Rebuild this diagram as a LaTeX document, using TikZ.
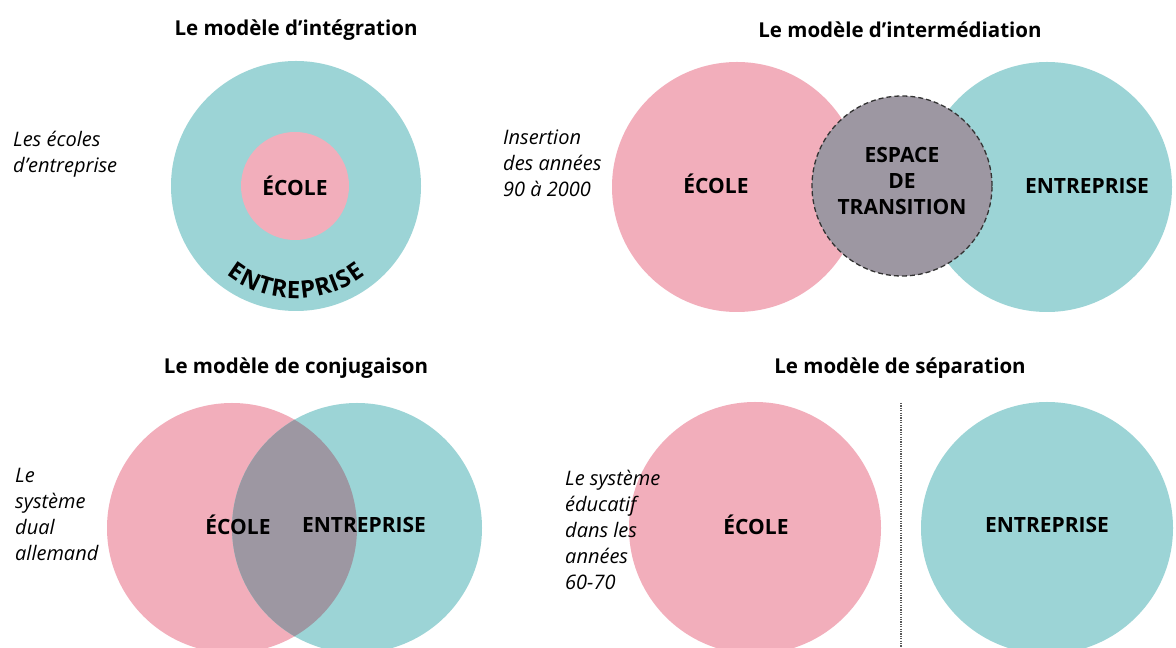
\documentclass[tikz,border=0pt]{standalone}
\usepackage{fontspec}
\setmainfont{Open Sans}
\definecolor{tealbg}{RGB}{156,212,214}
\definecolor{pinkbg}{RGB}{242,174,187}
\definecolor{mauve}{RGB}{157,151,162}

\begin{document}
\begin{tikzpicture}[x=1pt,y=1pt]
    \tikzstyle{disc}=[circle,inner sep=0pt,minimum size=250pt]
    \tikzstyle{heading}=[font=\bfseries\fontsize{20.5}{24}\selectfont]
    \tikzstyle{tag}=[font=\bfseries\fontsize{21}{26}\selectfont,align=center]
    \tikzstyle{curvy}=[font=\bfseries\fontsize{24}{24}\selectfont,inner sep=0pt]
    \tikzstyle{note}=[font=\itshape\fontsize{20}{26}\selectfont,align=left,anchor=west,inner sep=0pt]
    \tikzstyle{divider}=[gray!70!black,line width=1.2pt,dash pattern=on 1.2pt off 1.2pt]
    \useasboundingbox[fill=white] (0,0) rectangle (1176,648);

    % integration
    \node[heading] (titleA) at (296,618) {Le modèle d’intégration};
    \node[disc,fill=tealbg] (entrA) at (296,462) {};
    \node[disc,fill=pinkbg,minimum size=108pt,tag] (ecoleA) at (295,462) {ÉCOLE};
    \foreach \ch/\ang in {E/235.4,N/244.2,T/253.0,R/260.9,E/268.7,P/276.6,R/284.9,I/291.3,S/297.1,E/304.6}
        \node[curvy,rotate=\ang+90] at ([shift={(\ang:104)}]entrA.center) {\ch};
    \node[note] (noteA) at (13,494) {Les écoles\\d’entreprise};

    % intermediation
    \node[heading] (titleB) at (900,618) {Le modèle d’intermédiation};
    \node[disc,fill=pinkbg] (ecoleB) at (737,461) {};
    \node[disc,fill=tealbg] (entrB) at (1047,461) {};
    \node[disc,fill=mauve,minimum size=180pt,draw=black!80,line width=1.3pt,
        dash pattern=on 5pt off 3pt] (transB) at (902,462) {};
    \node[tag] (ecoleBtxt) at (716,464) {ÉCOLE};
    \node[tag] (entrBtxt) at (1087,462) {ENTREPRISE};
    \node[tag] (transBtxt) at (902,467) {ESPACE\\DE\\TRANSITION};
    \node[note] (noteB) at (503,485) {Insertion\\des années\\90 à 2000};

    % conjugaison
    \node[heading] (titleC) at (296,280) {Le modèle de conjugaison};
    \node[disc,fill=pinkbg] (ecoleC) at (232,120) {};
    \node[disc,fill=tealbg] (entrC) at (357,120) {};
    \begin{scope}
        \clip (ecoleC.center) circle (125);
        \fill[mauve] (entrC.center) circle (125);
    \end{scope}
    \node[tag] (ecoleCtxt) at (238,123) {ÉCOLE};
    \node[tag] (entrCtxt) at (364,123) {ENTREPRISE};
    \node[note] (noteC) at (15,134) {Le\\système\\dual\\allemand};

    % separation
    \node[heading] (titleD) at (900,280) {Le modèle de séparation};
    \node[disc,fill=pinkbg,minimum size=252pt] (ecoleD) at (755,120) {};
    \node[disc,fill=tealbg,minimum size=252pt] (entrD) at (1047,120) {};
    \node[tag] (ecoleDtxt) at (756,123) {ÉCOLE};
    \node[tag] (entrDtxt) at (1047,123) {ENTREPRISE};
    \coordinate (divtop) at (901,245);
    \coordinate (divbot) at (901,0);
    \draw[divider] (divtop) -- (divbot);
    \node[note] (noteD) at (565,118) {Le système\\éducatif\\dans les\\années\\60-70};
\end{tikzpicture}
\end{document}
